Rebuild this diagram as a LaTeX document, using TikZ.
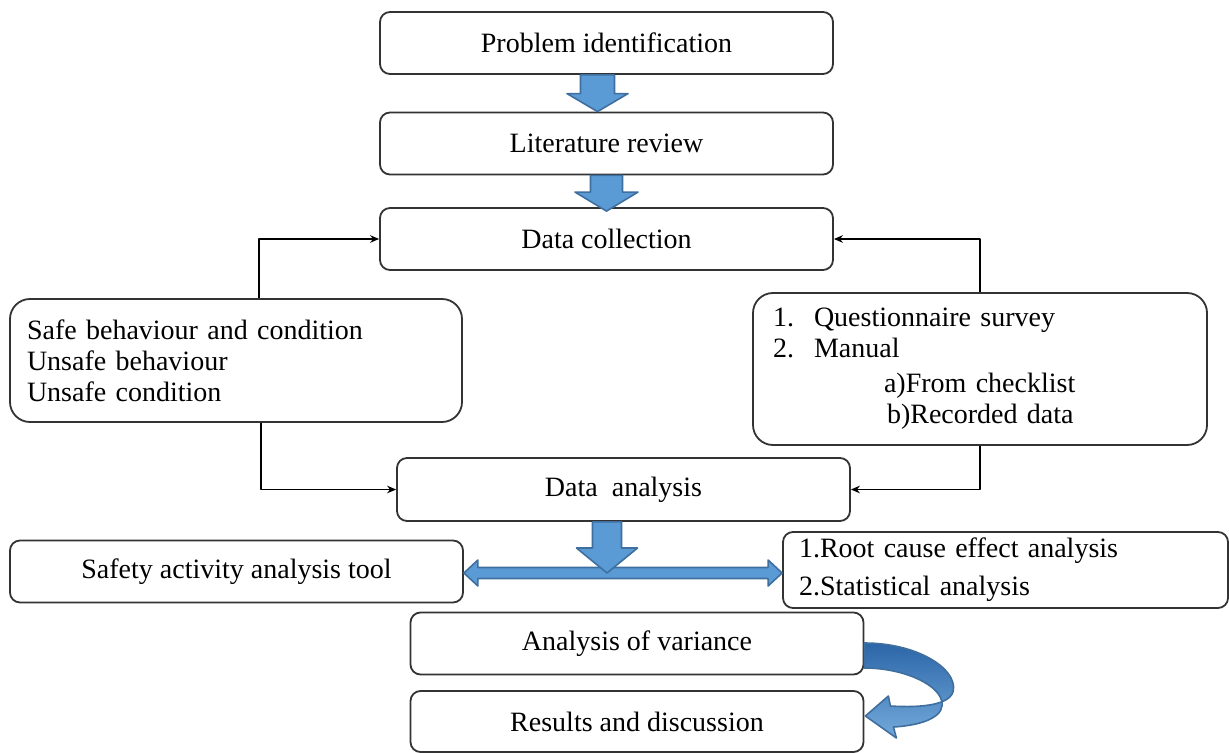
\documentclass[tikz,border=0pt]{standalone}
\usepackage{fontspec}
\setmainfont{Liberation Serif}
\usetikzlibrary{calc,arrows.meta}
\definecolor{arrowblue}{HTML}{5B9BD5}
\definecolor{arrowedge}{HTML}{3F6F9E}
\definecolor{arrowdark}{HTML}{2C66A8}
\begin{document}
\begin{tikzpicture}[x=0.5pt,y=-0.5pt,line join = round,>={Stealth[length=4.5pt,width=3.8pt]},font=\fontsize{14}{15.5}\selectfont,
	box/.style={draw=black!80,line width=0.9pt,rounded corners=5pt,minimum width=226.5pt,minimum height=31pt,inner sep=0pt},
	tallbox/.style={box,rounded corners=10pt,align=left},
	link/.style={->,line width=0.7pt},
	blockarrow/.style={fill=arrowblue,draw=arrowedge,line width=0.8pt}]
			\def\blockdown#1#2#3#4#5{\filldraw[blockarrow] let \p1=(#1), \p2=(#2) in (\x2-#3,\y1) -- (\x2+#3,\y1) -- (\x2+#3,\y2+#5) -- (\x2+#4,\y2+#5) -- (\x2,\y2) -- (\x2-#4,\y2+#5) -- (\x2-#3,\y2+#5) -- cycle;}
			\useasboundingbox (0,0) rectangle (1229,753);
			\node[box] (prob) at (606.5,43) {Problem identification};
			\node[box] (lit) at (606.5,143.5) {Literature review};
			\node[box] (coll) at (606.5,239) {Data collection};
			\node[tallbox,minimum width=226pt,minimum height=61.5pt,text width=209pt] (safe) at (236,360.5) {Safe behaviour and condition\\ Unsafe behaviour\\ Unsafe condition};
			\node[tallbox,minimum width=227pt,minimum height=76pt,text width=207pt] (quest) at (980,369) {\makebox[20.5pt][l]{1.}Questionnaire survey\\ \makebox[20.5pt][l]{2.}Manual\\[2pt] \hspace*{55.5pt}a)From checklist\\ \hspace*{57pt}b)Recorded data};
			\node[box,minimum height=31.5pt] (ana) at (623.5,489.5) {Data~~analysis};
			\node[box] (tool) at (236.5,571.5) {Safety activity analysis tool};
			\node[box,align=left,minimum width=222.5pt,minimum height=38pt,text width=206.5pt] (root) at (1005.5,570) {1.Root cause effect analysis\\[3.5pt] 2.Statistical analysis};
			\node[box] (var) at (637,643.5) {Analysis of variance};
			\node[box,minimum height=30.5pt] (res) at (637,721.5) {Results and discussion};
			\coordinate (hub) at (607,573);
			\draw[link] ([xshift=11.5pt]safe.north) |- (coll.west);
			\draw[link] (quest.north) |- (coll.east);
			\draw[link] ([xshift=12.5pt]safe.south) |- (ana.west);
			\draw[link] (quest.south) |- (ana.east);
			\blockdown{prob.south}{[xshift=-4.5pt]lit.north}{8.5pt}{15.25pt}{9pt}
			\blockdown{lit.south}{[yshift=-2pt]coll.north}{8pt}{15.75pt}{9.5pt}
			\filldraw[blockarrow] let \p1=(tool.east), \p2=(root.west), \p3=(hub) in (\x1,\y3) -- (\x1+7pt,\y3+6.5pt) -- (\x1+7pt,\y3+2.75pt) -- (\x2-7pt,\y3+2.75pt) -- (\x2-7pt,\y3+6.5pt) -- (\x2,\y3) -- (\x2-7pt,\y3-6.5pt) -- (\x2-7pt,\y3-2.75pt) -- (\x1+7pt,\y3-2.75pt) -- (\x1+7pt,\y3-6.5pt) -- cycle;
			\blockdown{ana.south}{hub}{7.25pt}{15.25pt}{12.5pt}
			\begin{scope}[shift={(var.east)}]
				\filldraw[draw=arrowedge,line width=0.8pt,top color=arrowdark,bottom color=arrowblue!85] (0,-0.5) .. controls (52,-0.5) and (92,24.5) .. (89,46.5) .. controls (87,61.5) and (57,64.5) .. (26,62.5) -- (24,52.5) -- (1,72.5) -- (32,94.5) -- (29,83.5) .. controls (62,81.5) and (82,71.5) .. (77,56.5) .. controls (72,39.5) and (37,24.5) .. (0,24.5) -- cycle;
			\end{scope}
		\end{tikzpicture}
\end{document}
